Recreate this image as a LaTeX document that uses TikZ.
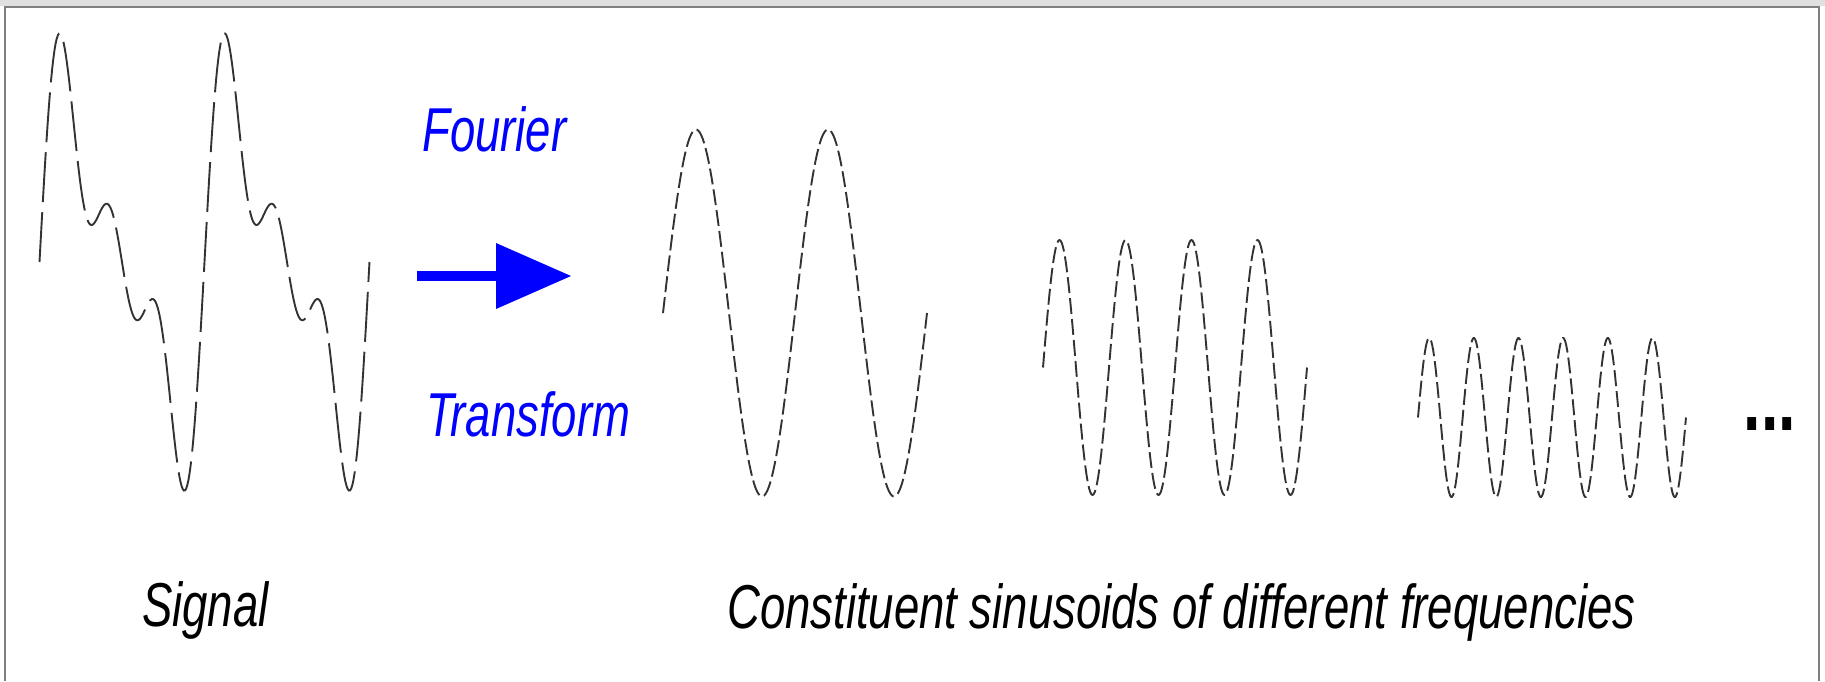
\documentclass[tikz,border=0pt]{standalone}
\usepackage{fontspec}
\setmainfont{Liberation Sans}
\usepackage{graphicx}
\newcommand\narrowtxt[1]{\scalebox{0.734}[1]{#1}}
\begin{document}
\begin{tikzpicture}[x=1pt,y=-1pt,
  wave/.style={draw=black!80, line width=1.9pt, dash pattern=on 16pt off 5pt},
  sigwave/.style={draw=black!80, line width=1.9pt, dash pattern=on 50pt off 10pt},
  lbl/.style={inner sep=0pt, anchor=base west, font=\fontsize{62}{70}\selectfont\itshape},
  frame/.style={draw=black!50, line width=2pt},
]
\useasboundingbox (0,0) rectangle (1825,681);
% shadow and frame
\fill[black!12] (0,0) rectangle (1825,5.5);
\draw[frame] (5,681) -- (5,6.5) -- (1819,6.5) -- (1819,681);

% signal
\draw[sigwave] plot[domain=0:720, samples=289]
  ({39.5+\x*0.4583}, {262-137.4*(sin(\x)+0.640*sin(2*\x)+0.447*sin(3*\x)-0.0306*sin(4*\x))});

% constituent sinusoids
\draw[wave] plot[domain=0:720, samples=181] ({663+\x*0.366667}, {313-183.5*sin(\x)});
\draw[wave] plot[domain=0:1440, samples=241] ({1043+\x*0.183333}, {367.5-127.5*sin(\x)});
\draw[wave] plot[domain=0:2160, samples=301] ({1418+\x*0.124074}, {417.5-79.5*sin(\x)});

% arrow
\coordinate (atail) at (417,276);
\coordinate (ahead) at (571,276);
\fill[blue] (417,271) rectangle (498,281);
\fill[blue] (496,243) -- (ahead) -- (496,309) -- cycle;

% labels
\node[lbl, text=blue] (fourier) at (422,151) {\narrowtxt{Fourier}};
\node[lbl, text=blue] (transform) at (426,436) {\narrowtxt{Transform}};
\node[lbl] (signal) at (142,626) {\narrowtxt{Signal}};
\node[lbl] (constituent) at (727,628) {\narrowtxt{Constituent sinusoids of different frequencies}};
\node[inner sep=0pt, anchor=base, font=\fontsize{87}{90}\selectfont\bfseries] (dots) at (1770,430) {\scalebox{0.72}[1]{...}};
\end{tikzpicture}
\end{document}
